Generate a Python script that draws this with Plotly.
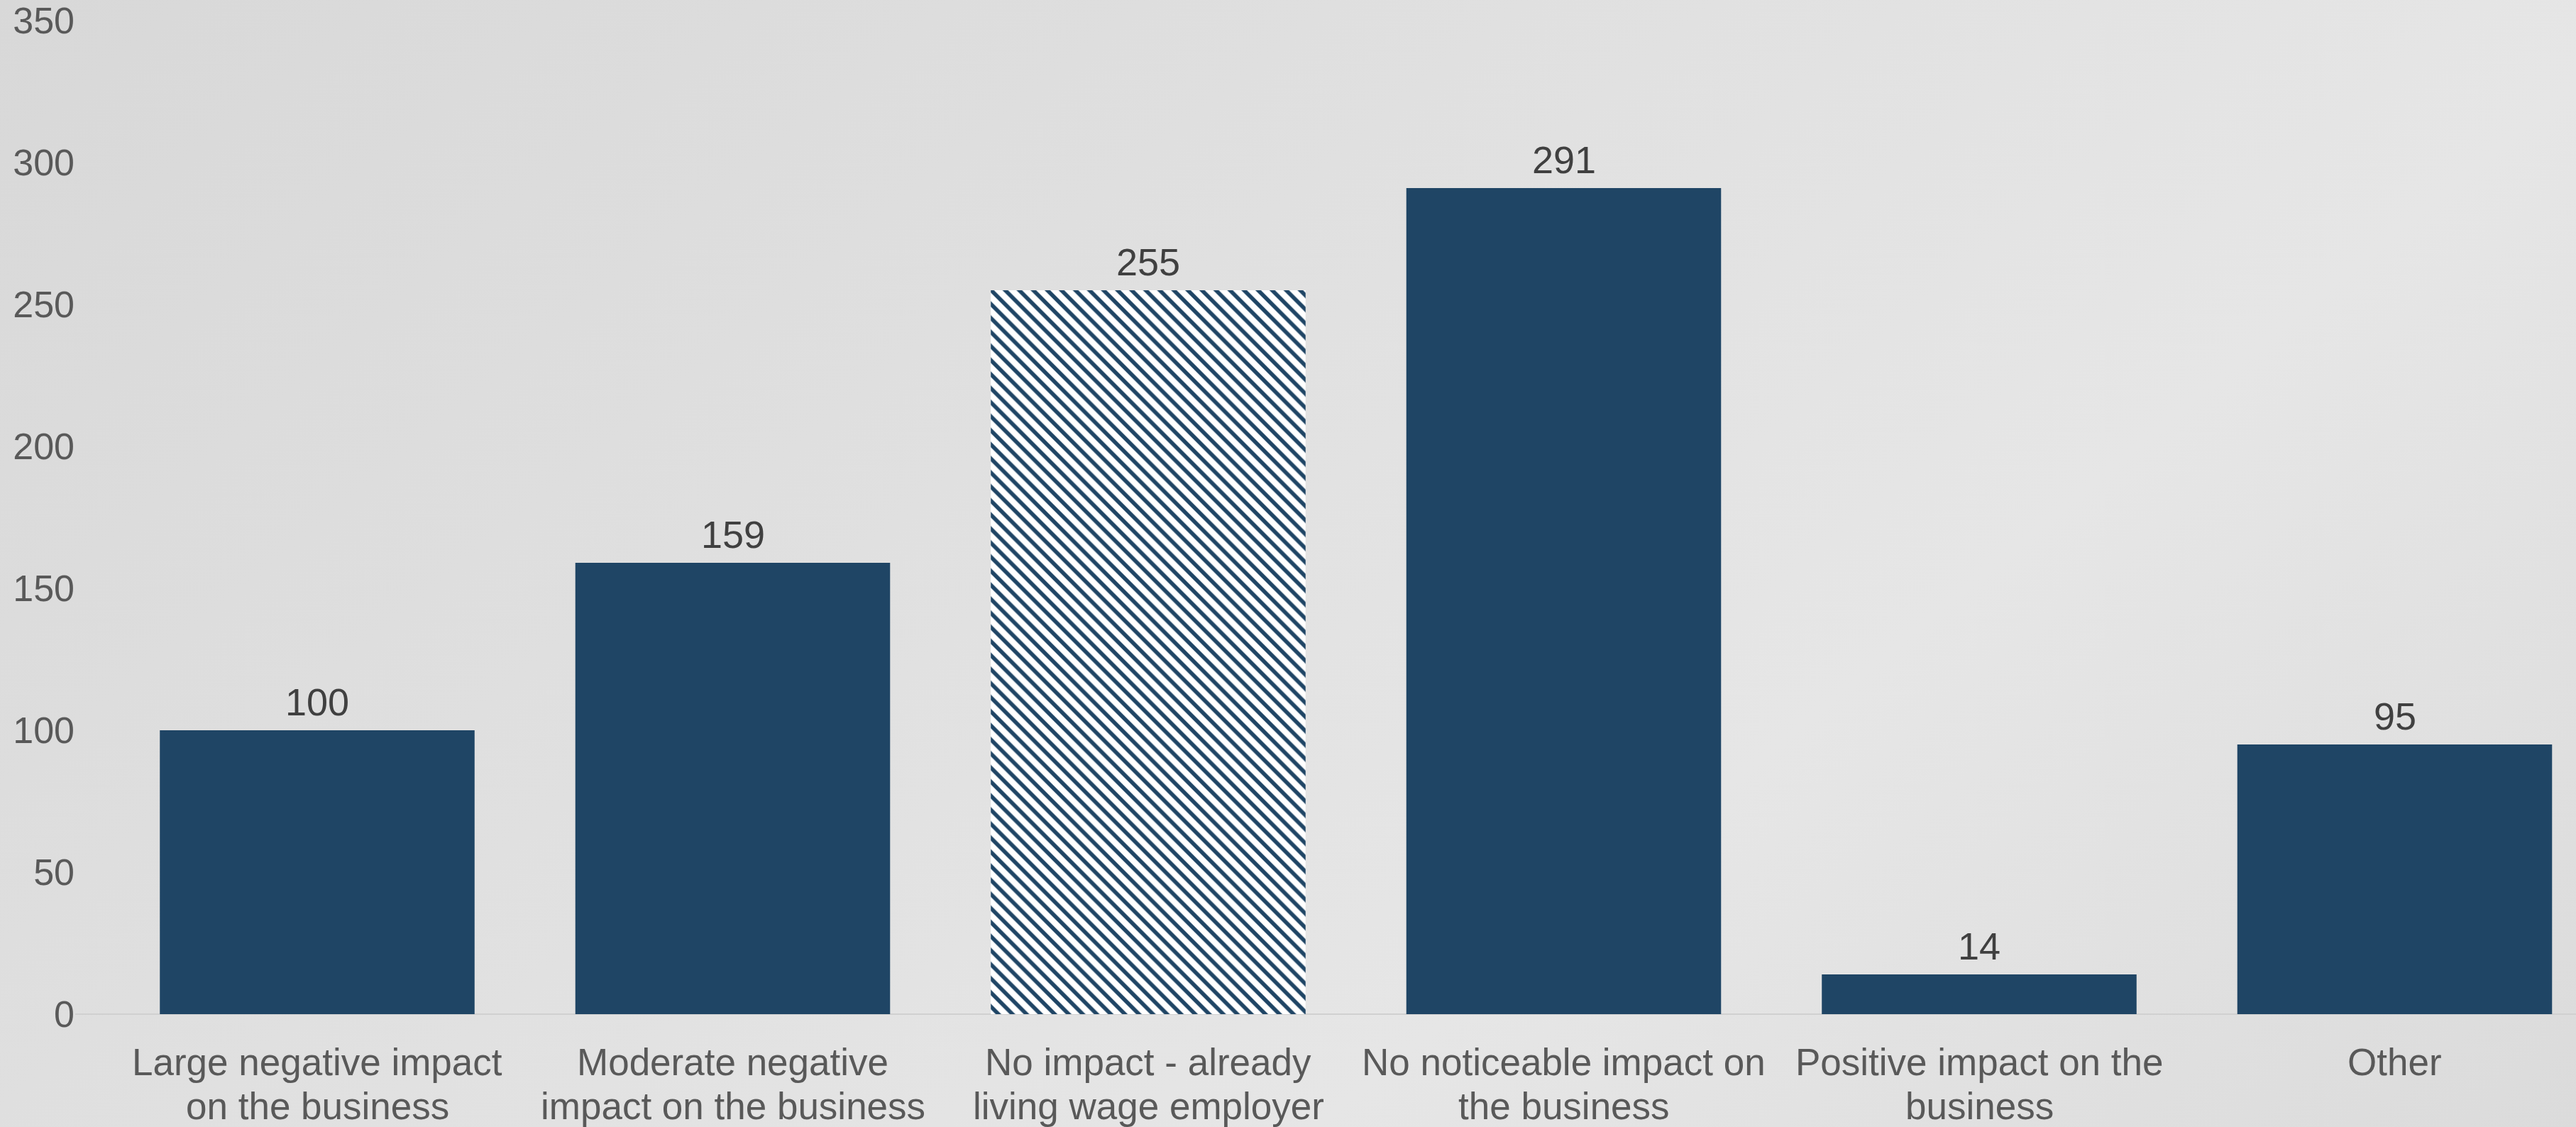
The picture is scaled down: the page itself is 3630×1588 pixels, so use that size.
import base64
import plotly.graph_objects as go

categories = [
    "Large negative impact<br>on the business",
    "Moderate negative<br>impact on the business",
    "No impact - already<br>living wage employer",
    "No noticeable impact on<br>the business",
    "Positive impact on the<br>business",
    "Other",
]
values = [100, 159, 255, 291, 14, 95]
hatched = [False, False, True, False, False, False]
y_ticks = [0, 50, 100, 150, 200, 250, 300, 350]

W, H = 3630, 1588
L, R, T, B = 106, 0, 29, 159
plot_w = W - L - R
plot_h = H - T - B

bar_color = "#1f4565"
FONT = "Liberation Sans, Arial, sans-serif"

svg = f'''<svg xmlns="http://www.w3.org/2000/svg" width="{W}" height="{H}" viewBox="0 0 {W} {H}" preserveAspectRatio="none">
<defs><linearGradient id="g" gradientUnits="userSpaceOnUse" x1="0" y1="0" x2="2258" y2="2725">
<stop offset="0" stop-color="#d8d8d8"/>
<stop offset="0.68" stop-color="#e6e6e6"/>
<stop offset="1" stop-color="#dbdbdb"/>
</linearGradient></defs>
<rect x="0" y="0" width="{W}" height="{H}" fill="url(#g)"/></svg>'''
bg_uri = "data:image/svg+xml;base64," + base64.b64encode(svg.encode()).decode()

fig = go.Figure()
fig.add_trace(go.Bar(
    x=categories,
    y=values,
    width=0.7575,
    marker=dict(
        color=bar_color,
        line=dict(width=0),
        pattern=dict(
            shape=["\\" if h else "" for h in hatched],
            fgcolor=bar_color,
            fgopacity=1,
            bgcolor="white",
            size=14,
            solidity=0.4,
        ),
    ),
    hoverinfo="skip",
))

# value labels
for c, v in zip(categories, values):
    fig.add_annotation(
        x=c, y=v, text=str(v), showarrow=False,
        yanchor="bottom", yshift=8,
        font=dict(family=FONT, size=54, color="#404040"),
    )

# category labels (two lines, tighter line spacing than default)
def px_to_paper_y(py):
    return (H - B - py) / plot_h

line_centers = [1497, 1558]
for c in categories:
    for i, part in enumerate(c.split("<br>")):
        fig.add_annotation(
            x=c, xref="x", y=px_to_paper_y(line_centers[i]), yref="paper",
            text=part, showarrow=False, xanchor="center", yanchor="middle",
            font=dict(family=FONT, size=53, color="#595959"),
        )

x_lo = (L - 447) / 585.5
x_hi = 5 + (W - 3374.5) / 585.5

fig.update_layout(
    width=W, height=H,
    margin=dict(l=L, r=R, t=T, b=B, pad=0),
    paper_bgcolor="#dcdcdc",
    plot_bgcolor="rgba(0,0,0,0)",
    showlegend=False,
    font=dict(family=FONT, size=52, color="#595959"),
    images=[dict(
        source=bg_uri, xref="paper", yref="paper",
        x=-L / plot_w, y=1 + T / plot_h,
        sizex=W / plot_w, sizey=H / plot_h,
        xanchor="left", yanchor="top", sizing="stretch", layer="below",
    )],
    xaxis=dict(
        type="category", range=[x_lo, x_hi], showgrid=False, zeroline=False,
        showline=False, ticks="", showticklabels=False,
    ),
    yaxis=dict(
        range=[0, 350], tickvals=y_ticks, showgrid=False, zeroline=True,
        zerolinecolor="#d0d0d0", zerolinewidth=2, showline=False, ticks="",
        tickfont=dict(size=52, color="#595959"),
    ),
)

fig.write_html("out.html")
